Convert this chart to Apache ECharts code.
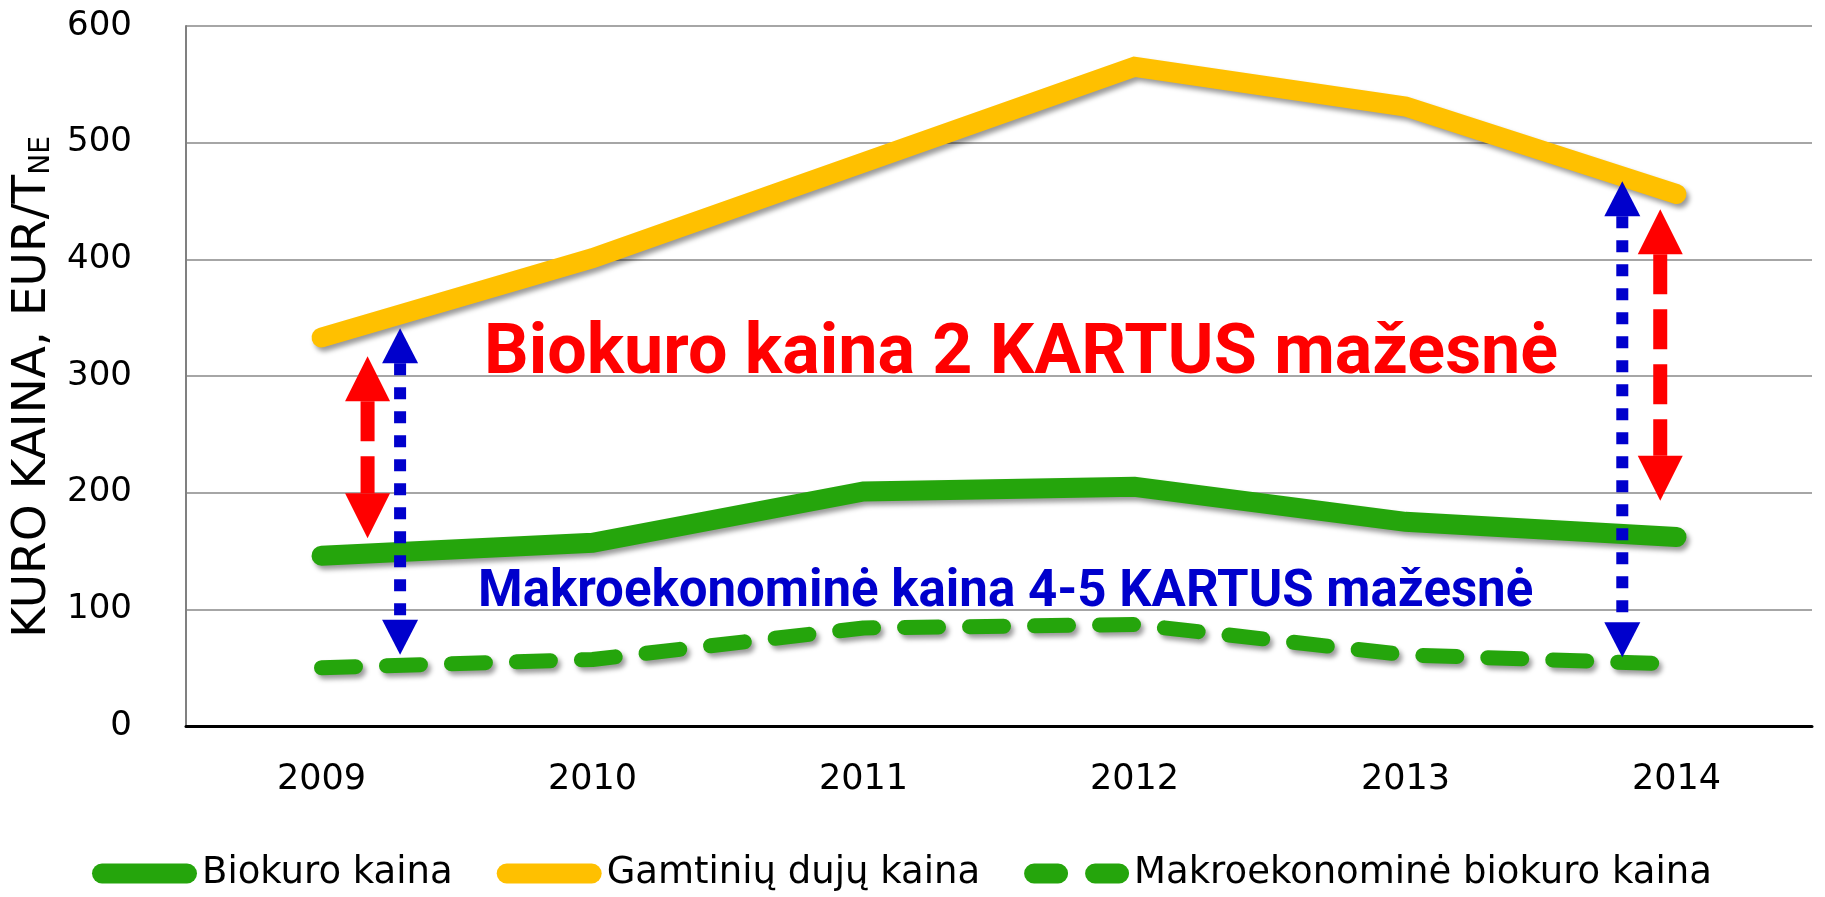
<!DOCTYPE html>
<html>
<head>
<meta charset="utf-8">
<title>Kuro kaina</title>
<script src="https://cdn.jsdelivr.net/npm/echarts@6/dist/echarts.min.js"></script>
<style>
  html, body { margin: 0; padding: 0; background: #fff; }
  #main { width: 1825px; height: 897px; }
</style>
</head>
<body>
<div id="main"></div>
<script>
const years = ['2009', '2010', '2011', '2012', '2013', '2014'];
const biokuro = [146, 157, 201, 205, 175, 162];
const dujos = [333, 401, 483, 565, 531, 456];
const makro = [50, 57, 84, 87, 61, 53];
const yTicks = [0, 100, 200, 300, 400, 500, 600];
// rodyklės: [metų indeksas, apatinė reikšmė, viršutinė reikšmė]
const redArrows = [[0, 161, 317], [5, 193, 443]];
const blueArrows = [[0, 61, 341], [5, 59, 467]];

const GREEN = '#25A50C';
const YELLOW = '#FFC000';
const RED = '#FF0000';
const BLUE = '#0000CC';

const lineShadow = {
  shadowColor: 'rgba(0,0,0,0.4)',
  shadowBlur: 5,
  shadowOffsetX: 3,
  shadowOffsetY: 4,
};

// dvipusė rodyklė
function arrowRenderer(cfg) {
  return function (params, api) {
    const top = api.coord([api.value(0), api.value(2)]);
    const bot = api.coord([api.value(0), api.value(1)]);
    const band = api.size([1, 0])[0];
    const x = top[0] + cfg.shift[params.dataIndex] * band;
    const y1 = top[1];
    const y2 = bot[1];
    const hw = cfg.headW / 2;
    return {
      type: 'group',
      children: [
        {
          type: 'line',
          shape: { x1: x, y1: y1 + cfg.head, x2: x, y2: y2 - cfg.head },
          style: { stroke: cfg.color, lineWidth: cfg.width, lineDash: cfg.dash, lineCap: 'butt' },
        },
        {
          type: 'polygon',
          shape: { points: [[x, y1], [x - hw, y1 + cfg.head], [x + hw, y1 + cfg.head]] },
          style: { fill: cfg.color },
        },
        {
          type: 'polygon',
          shape: { points: [[x, y2], [x - hw, y2 - cfg.head], [x + hw, y2 - cfg.head]] },
          style: { fill: cfg.color },
        },
      ],
    };
  };
}

const solidIcon = 'path://M10,0 H95 A10,10 0 0 1 95,20 H10 A10,10 0 0 1 10,0 Z';
const dashIcon = 'path://M10,0 H34 A10,10 0 0 1 34,20 H10 A10,10 0 0 1 10,0 Z M71,0 H95 A10,10 0 0 1 95,20 H71 A10,10 0 0 1 71,0 Z';

const option = {
  backgroundColor: '#fff',
  animation: false,
  grid: { left: 186, right: 13, top: 26, bottom: 171 },
  legend: {
    data: [
      { name: 'Biokuro kaina', icon: solidIcon },
      { name: 'Gamtinių dujų kaina', icon: solidIcon },
      { name: 'Makroekonominė biokuro kaina', icon: dashIcon },
    ],
    left: 87,
    top: 850,
    itemWidth: 105,
    itemHeight: 20,
    itemGap: 44,
    textStyle: { fontSize: 37, fontFamily: 'DejaVu Sans', color: '#000' },
  },
  xAxis: {
    type: 'category',
    data: years,
    boundaryGap: true,
    axisTick: { show: false },
    axisLine: { show: true, lineStyle: { color: '#000', width: 3 } },
    axisLabel: { fontSize: 35, fontFamily: 'DejaVu Sans', color: '#000', margin: 36 },
    splitLine: { show: false },
  },
  yAxis: {
    type: 'value',
    min: yTicks[0],
    max: yTicks[yTicks.length - 1],
    interval: yTicks[1] - yTicks[0],
    name: 'KURO KAINA, EUR/T{sub|NE}',
    nameLocation: 'middle',
    nameRotate: 90,
    nameGap: 124,
    nameTextStyle: {
      fontSize: 47,
      fontFamily: 'DejaVu Sans',
      color: '#000',
      padding: [0, 22, 0, 0],
      rich: {
        sub: { fontSize: 28, fontFamily: 'DejaVu Sans', color: '#000', verticalAlign: 'bottom', padding: [19, 0, 0, 0] },
      },
    },
    axisLine: { show: true, lineStyle: { color: '#808080', width: 2 } },
    axisTick: { show: false },
    axisLabel: { fontSize: 34, fontFamily: 'DejaVu Sans', color: '#000', margin: 54 },
    splitLine: { show: true, lineStyle: { color: '#A6A6A6', width: 2 } },
  },
  graphic: [
    {
      type: 'text',
      left: 484,
      top: 320,
      z: 10,
      style: { text: 'Biokuro kaina 2 KARTUS mažesnė', font: 'bold 70px Roboto', fill: RED },
    },
    {
      type: 'text',
      left: 478,
      top: 568,
      z: 10,
      style: { text: 'Makroekonominė kaina 4-5 KARTUS mažesnė', font: 'bold 51px Roboto', fill: BLUE },
    },
  ],
  series: [
    {
      name: 'Biokuro kaina',
      type: 'line',
      data: biokuro,
      symbol: 'none',
      color: GREEN,
      lineStyle: Object.assign({ color: GREEN, width: 20, cap: 'round', join: 'miter' }, lineShadow),
      itemStyle: { color: GREEN },
    },
    {
      name: 'Gamtinių dujų kaina',
      type: 'line',
      data: dujos,
      symbol: 'none',
      color: YELLOW,
      lineStyle: Object.assign({ color: YELLOW, width: 20, cap: 'round', join: 'miter' }, lineShadow),
      itemStyle: { color: YELLOW },
    },
    {
      name: 'Makroekonominė biokuro kaina',
      type: 'line',
      data: makro,
      symbol: 'none',
      color: GREEN,
      lineStyle: Object.assign({ color: GREEN, width: 15, cap: 'round', join: 'round', type: [34, 31] }, lineShadow),
      itemStyle: { color: GREEN },
    },
    {
      type: 'custom',
      name: 'raudonos rodyklės',
      data: redArrows,
      encode: { x: 0, y: [1, 2] },
      z: 5,
      silent: true,
      renderItem: arrowRenderer({ color: RED, shift: [0.17, -0.06], head: 45, headW: 45, width: 14, dash: [40, 15] }),
    },
    {
      type: 'custom',
      name: 'mėlynos rodyklės',
      data: blueArrows,
      encode: { x: 0, y: [1, 2] },
      z: 5,
      silent: true,
      renderItem: arrowRenderer({ color: BLUE, shift: [0.29, -0.2], head: 35, headW: 36, width: 12, dash: [12, 12] }),
    },
  ],
};

const myChart = echarts.init(document.getElementById('main'));
myChart.setOption(option);
window.addEventListener('resize', () => {
  myChart.resize();
});
</script>
</body>
</html>
